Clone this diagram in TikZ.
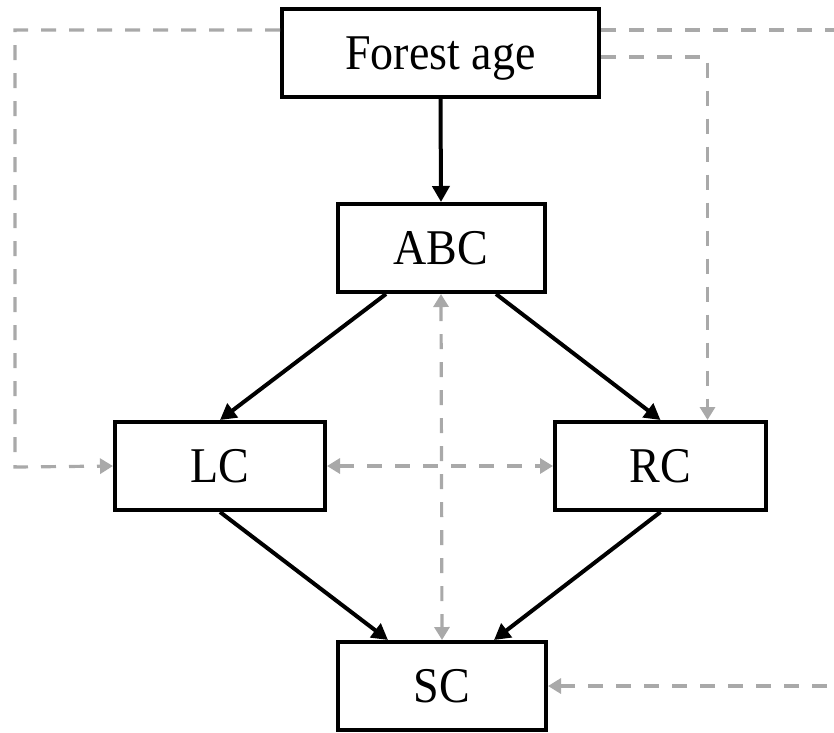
\documentclass[tikz,border=0pt]{standalone}
\usepackage{fontspec}
\setmainfont{Liberation Serif}[FakeStretch=0.92]
\usetikzlibrary{arrows.meta}
\definecolor{dgray}{RGB}{169,169,169}
\begin{document}
\begin{tikzpicture}[x=1pt,y=-1pt,
  box/.style={draw=black, line width=4pt, fill=white, minimum height=88pt, inner sep=0pt, text height=33pt, text depth=0pt, font=\fontsize{50}{54}\selectfont},
  solidarrow/.style={draw=black, line width=4pt, -{Triangle[length=16pt,width=17pt]}},
  dasharrow/.style={draw=dgray, line width=3.2pt, dash pattern=on 15pt off 13pt, -{Triangle[length=13pt,width=15pt]}},
  dasharrowboth/.style={dasharrow, {Triangle[length=13pt,width=15pt]}-{Triangle[length=13pt,width=15pt]}}]
\useasboundingbox (0,0) rectangle (834,732);
\clip (0,0) rectangle (834,732);
% nodes
\node[box, minimum width=317pt] (fa) at (440.5,53) {Forest age};
\node[box, minimum width=207pt] (abc) at (441,248) {ABC};
\node[box, minimum width=210pt] (lc) at (220,466) {LC};
\node[box, minimum width=211pt] (rc) at (660.5,466) {RC};
\node[box, minimum width=208pt] (sc) at (442,686) {SC};
\coordinate (L) at (15,467);
\coordinate (R) at (860,688);
% solid arrows
\draw[solidarrow] (fa.south) -- (abc.north);
\draw[solidarrow] ([xshift=-55]abc.south) -- (lc.north);
\draw[solidarrow] ([xshift=55]abc.south) -- (rc.north);
\draw[solidarrow] (lc.south) -- ([xshift=-54]sc.north);
\draw[solidarrow] (rc.south) -- ([xshift=52]sc.north);
% dashed arrows
\draw[dasharrow] ([yshift=23]fa.west) -| (L) -- (lc.west);
\draw[dasharrow] ([yshift=23]fa.east) -| (R) |- (sc.east);
\draw[dasharrow] ([yshift=-4]fa.east) -| ([xshift=47]rc.north);
\draw[dasharrowboth] (abc.south) -- (sc.north);
\draw[dasharrowboth] (lc.east) -- (rc.west);
\end{tikzpicture}
\end{document}
